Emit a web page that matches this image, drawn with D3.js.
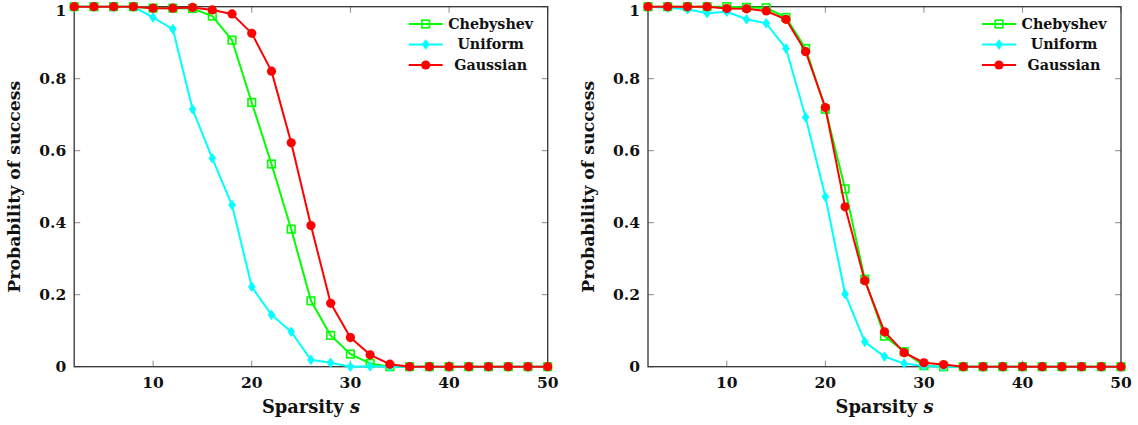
<!DOCTYPE html>
<html>
<head>
<meta charset="utf-8">
<script src="https://cdn.jsdelivr.net/npm/d3@7"></script>
<style>
  html, body { margin: 0; padding: 0; background: #fff; }
  svg { display: block; }
  text { font-family: "DejaVu Serif", "Liberation Serif", serif; font-weight: bold; fill: #111; }
</style>
</head>
<body>
<svg id="chart" width="1138" height="425"></svg>
<script>
// ---------------- data ----------------
const sparsity = [2, 4, 6, 8, 10, 12, 14, 16, 18, 20, 22, 24, 26, 28, 30, 32, 34, 36, 38, 40, 42, 44, 46, 48, 50];

const leftChebyshev = [1, 1, 1, 1, 0.996, 0.996, 0.995, 0.974, 0.907, 0.734, 0.563, 0.382, 0.183, 0.087, 0.035, 0.009, 0, 0, 0, 0, 0, 0, 0, 0, 0];
const leftUniform   = [1, 1, 1, 1, 0.970, 0.938, 0.715, 0.579, 0.449, 0.222, 0.144, 0.097, 0.019, 0.011, 0, 0.001, 0, 0, 0, 0, 0, 0, 0, 0, 0];
const leftGaussian  = [1, 1, 1, 1, 0.996, 0.996, 0.998, 0.991, 0.980, 0.926, 0.821, 0.622, 0.392, 0.176, 0.081, 0.033, 0.007, 0, 0, 0, 0, 0, 0, 0, 0];

const rightChebyshev = [1, 1, 1, 1, 1, 0.998, 0.997, 0.970, 0.884, 0.715, 0.494, 0.243, 0.085, 0.042, 0.003, 0, 0, 0, 0, 0, 0, 0, 0, 0, 0];
const rightUniform   = [1, 0.997, 0.993, 0.982, 0.986, 0.965, 0.954, 0.884, 0.693, 0.472, 0.202, 0.069, 0.028, 0.009, 0.002, 0, 0, 0, 0, 0, 0, 0, 0, 0, 0];
const rightGaussian  = [1, 1, 1, 1, 0.995, 0.994, 0.988, 0.965, 0.875, 0.720, 0.444, 0.239, 0.097, 0.039, 0.011, 0.006, 0, 0, 0, 0, 0, 0, 0, 0, 0];

const seriesNames = ["Chebyshev", "Uniform", "Gaussian"];
const xTicks = [10, 20, 30, 40, 50];
const yTicks = [0, 0.2, 0.4, 0.6, 0.8, 1];
const xLabel = "Sparsity";
const yLabel = "Probability of success";

// ---------------- styles ----------------
const colors = { Chebyshev: "#00ff00", Uniform: "#00ffff", Gaussian: "#ff0000" };

const svg = d3.select("#chart");

// pick font sizes so text widths match the reference
function fitSize(str, targetWidth) {
  const t = svg.append("text").attr("font-size", 20).text(str);
  const w = t.node().getComputedTextLength();
  t.remove();
  return w > 0 ? 20 * targetWidth / w : 15;
}
const tickSize = Math.min(18, fitSize("0.8", 27));
const labelSize = fitSize(yLabel, 212);
const xLabelSize = fitSize(xLabel + " s", 98);
const legendSize = fitSize("Chebyshev", 85);

function drawMarker(g, name, x, y) {
  const c = colors[name];
  if (name === "Chebyshev") {
    g.append("rect").attr("x", x - 3.8).attr("y", y - 3.8).attr("width", 7.6).attr("height", 7.6)
      .attr("fill", "none").attr("stroke", c).attr("stroke-width", 1.6);
  } else if (name === "Uniform") {
    g.append("path").attr("d", `M${x},${y - 4.8}L${x + 3.4},${y}L${x},${y + 4.8}L${x - 3.4},${y}Z`)
      .attr("fill", c).attr("stroke", c).attr("stroke-width", 0.8);
  } else {
    g.append("circle").attr("cx", x).attr("cy", y).attr("r", 4.6).attr("fill", c);
  }
}

function drawPanel(x0, x1, data) {
  const x = d3.scaleLinear().domain([2, 50]).range([x0, x1]);
  const y = d3.scaleLinear().domain([0, 1]).range([366.7, 6.7]);
  const g = svg.append("g");

  // inward ticks on all four sides
  const tickLen = 6;
  const tickG = g.append("g").attr("stroke", "#888").attr("stroke-width", 1);
  xTicks.forEach(t => {
    tickG.append("line").attr("x1", x(t)).attr("x2", x(t)).attr("y1", y(0)).attr("y2", y(0) - tickLen);
    tickG.append("line").attr("x1", x(t)).attr("x2", x(t)).attr("y1", y(1)).attr("y2", y(1) + tickLen);
  });
  yTicks.forEach(t => {
    tickG.append("line").attr("x1", x(2)).attr("x2", x(2) + tickLen).attr("y1", y(t)).attr("y2", y(t));
    tickG.append("line").attr("x1", x(50)).attr("x2", x(50) - tickLen).attr("y1", y(t)).attr("y2", y(t));
  });

  // frame
  g.append("rect").attr("x", x(2)).attr("y", y(1)).attr("width", x(50) - x(2)).attr("height", y(0) - y(1))
    .attr("fill", "none").attr("stroke", "#333").attr("stroke-width", 1.3);

  // tick labels
  xTicks.forEach(t => {
    g.append("text").attr("x", x(t)).attr("y", 388).attr("text-anchor", "middle")
      .attr("font-size", tickSize).text(t);
  });
  yTicks.forEach(t => {
    g.append("text").attr("x", x(2) - 8).attr("y", Math.max(y(t) + 5.5, tickSize * 0.98 + 0.5))
      .attr("text-anchor", "end").attr("font-size", tickSize).text(t);
  });

  // axis labels
  const xl = g.append("text").attr("x", (x(2) + x(50)) / 2).attr("y", 413).attr("text-anchor", "middle")
    .attr("font-size", xLabelSize);
  xl.append("tspan").text(xLabel + " ");
  xl.append("tspan").attr("font-style", "italic").text("s");

  g.append("text").attr("transform", `translate(${x(2) - 54.5},${(y(0) + y(1)) / 2}) rotate(-90)`)
    .attr("text-anchor", "middle").attr("font-size", labelSize).text(yLabel);

  // series
  const line = d3.line().x((d, i) => x(sparsity[i])).y(d => y(d));
  seriesNames.forEach(name => {
    const vals = data[name];
    const sg = g.append("g");
    sg.append("path").attr("d", line(vals)).attr("fill", "none")
      .attr("stroke", colors[name]).attr("stroke-width", 2).attr("stroke-linejoin", "round");
    vals.forEach((v, i) => drawMarker(sg, name, x(sparsity[i]), y(v)));
  });

  // legend
  const legX = x(50);
  seriesNames.forEach((name, i) => {
    const ly = 24 + i * 20.5;
    const lg = g.append("g");
    lg.append("line").attr("x1", legX - 139).attr("x2", legX - 105).attr("y1", ly).attr("y2", ly)
      .attr("stroke", colors[name]).attr("stroke-width", 2);
    drawMarker(lg, name, legX - 122, ly);
    lg.append("text").attr("x", legX - 57).attr("y", ly + 4.5).attr("text-anchor", "middle")
      .attr("font-size", legendSize).text(name);
  });
}

drawPanel(74.2, 547.7, { Chebyshev: leftChebyshev, Uniform: leftUniform, Gaussian: leftGaussian });
drawPanel(648, 1121, { Chebyshev: rightChebyshev, Uniform: rightUniform, Gaussian: rightGaussian });
</script>
</body>
</html>
